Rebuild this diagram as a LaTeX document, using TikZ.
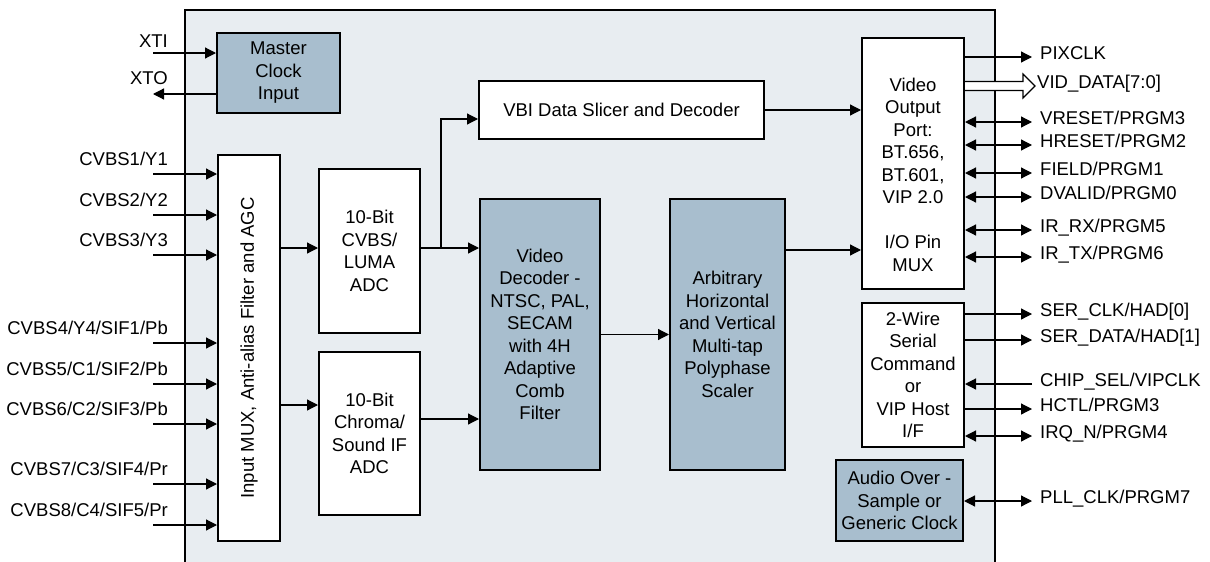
\documentclass[tikz,border=0pt]{standalone}
\usepackage{fontspec}
\setmainfont{Liberation Sans}
\usetikzlibrary{arrows.meta,positioning}
\definecolor{chipbg}{HTML}{E8EDF1}
\definecolor{blockblue}{HTML}{A8BECE}
\tikzset{
  blk/.style={draw, line width=2pt, fill=white, align=center, inner sep=0pt},
  blkblue/.style={blk, fill=blockblue},
  arr/.style={line width=1.2pt, -{Triangle[length=11pt,width=11pt]}},
  biarr/.style={line width=1.2pt, {Triangle[length=11pt,width=11pt]}-{Triangle[length=11pt,width=11pt]}},
  pin/.style={inner sep=0pt}
}

\begin{document}
\begin{tikzpicture}[x=1pt, y=-1pt, font=\fontsize{18.5}{22.5}\selectfont]
\clip (0,0) rectangle (1210,562);
\fill[white] (0,0) rectangle (1210,562);
\draw[line width=2pt, fill=chipbg] (185,600) -- (185,10) -- (995,10) -- (995,600);

\node[blkblue, minimum width=123pt, minimum height=80pt] (mclk) at (278.5,73) {Master\\Clock\\Input};
\node[blk, minimum width=62pt, minimum height=386pt] (mux) at (249,348) {};
\node[rotate=90] (muxtext) at (mux) {Input MUX, Anti-alias Filter and AGC};
\node[blk, minimum width=101pt, minimum height=164pt] (lumaadc) at (369.5,251) {10-Bit\\CVBS/\\LUMA\\ADC};
\node[blk, minimum width=101pt, minimum height=163pt] (chromaadc) at (369.5,433.5) {10-Bit\\Chroma/\\Sound IF\\ADC};
\node[blk, minimum width=285pt, minimum height=58pt] (vbi) at (621.5,110) {VBI Data Slicer and Decoder};
\node[blkblue, minimum width=120pt, minimum height=271pt] (decoder) at (540,334.5) {Video\\Decoder -\\NTSC, PAL,\\SECAM\\with 4H\\Adaptive\\Comb\\Filter};
\node[blkblue, minimum width=115pt, minimum height=271pt] (scaler) at (727.5,334.5) {Arbitrary\\Horizontal\\and Vertical\\Multi-tap\\Polyphase\\Scaler};
\node[blk, minimum width=102pt, minimum height=251pt] (port) at (913,163.5) {};
\node[align=center] (porttext) at (913,174.5) {Video\\Output\\Port:\\BT.656,\\BT.601,\\VIP 2.0\\[22.5pt]I/O Pin\\MUX};
\node[blk, minimum width=102pt, minimum height=144pt] (serial) at (913,375) {2-Wire\\Serial\\Command\\or\\VIP Host\\I/F};
\node[blkblue, minimum width=127pt, minimum height=81pt] (audio) at (899.5,500.5) {Audio Over -\\Sample or\\Generic Clock};

\coordinate (xti) at (153,53);
\coordinate (xto) at (153,94);
\draw[arr] (xti) -- (mclk.west |- xti);
\draw[arr] (mclk.west |- xto) -- (xto);
\node[pin, anchor=base east] (xtilbl) at (168,47) {XTI};
\node[pin, anchor=base east] (xtolbl) at (168,84) {XTO};

\foreach \y/\t in {174/{CVBS1/Y1}, 215/{CVBS2/Y2}, 255/{CVBS3/Y3}, 343/{CVBS4/Y4/SIF1/Pb}, 384/{CVBS5/C1/SIF2/Pb}, 424/{CVBS6/C2/SIF3/Pb}, 484/{CVBS7/C3/SIF4/Pr}, 525/{CVBS8/C4/SIF5/Pr}}{
  \coordinate (in\y) at (153,\y);
  \draw[arr] (in\y) -- (mux.west |- in\y);
  \node[pin, anchor=base east] (inlbl\y) at (168,\y-9) {\t};
}

\draw[arr] (mux.east |- 0,248) -- (lumaadc.west |- 0,248);
\draw[arr] (mux.east |- 0,405) -- (chromaadc.west |- 0,405);
\draw[arr] (lumaadc.east |- 0,248) -- (decoder.west |- 0,248);
\draw[arr] (441,248) |- (vbi.west |- 0,119);
\draw[arr] (chromaadc.east |- 0,419) -- (decoder.west |- 0,419);
\draw[arr] (decoder.east) -- (scaler.west |- decoder.east);
\draw[arr] (scaler.east |- 0,250) -- (port.west |- 0,250);
\draw[arr] (vbi.east) -- (port.west |- vbi.east);

\coordinate (pin57) at (1032,57);
\draw[arr] (port.east |- pin57) -- (pin57);
\node[pin, anchor=mid west] (pinlbl57) at (1040,57) {PIXCLK};

\coordinate (bus) at (port.east |- 0,86);
\draw[line width=1.2pt, fill=white] (bus) ++(0,-4.5) -- ++(58,0) -- ++(0,-7.5) -- ++(12,12) -- ++(-12,12) -- ++(0,-7.5) -- ++(-58,0);
\node[pin, anchor=mid west] (buslbl) at (1037,86) {VID\_DATA[7:0]};

\foreach \y/\t in {122/{VRESET/PRGM3}, 145/{HRESET/PRGM2}, 173/{FIELD/PRGM1}, 197/{DVALID/PRGM0}, 230/{IR\_RX/PRGM5}, 257/{IR\_TX/PRGM6}}{
  \coordinate (pin\y) at (1032,\y);
  \draw[biarr] (port.east |- pin\y) -- (pin\y);
  \node[pin, anchor=mid west] (pinlbl\y) at (1040,\y) {\t};
}
\foreach \y/\t in {314/{SER\_CLK/HAD[0]}, 340/{SER\_DATA/HAD[1]}, 409/{HCTL/PRGM3}}{
  \coordinate (pin\y) at (1032,\y);
  \draw[arr] (serial.east |- pin\y) -- (pin\y);
  \node[pin, anchor=mid west] (pinlbl\y) at (1040,\y) {\t};
}
\coordinate (pin384) at (1032,384);
\draw[arr] (pin384) -- (serial.east |- pin384);
\node[pin, anchor=mid west] (pinlbl384) at (1040,384) {CHIP\_SEL/VIPCLK};
\coordinate (pin436) at (1032,436);
\draw[biarr] (serial.east |- pin436) -- (pin436);
\node[pin, anchor=mid west] (pinlbl436) at (1040,436) {IRQ\_N/PRGM4};
\coordinate (pin501) at (1032,501);
\draw[biarr] (audio.east |- pin501) -- (pin501);
\node[pin, anchor=mid west] (pinlbl501) at (1040,501) {PLL\_CLK/PRGM7};
\end{tikzpicture}
\end{document}
